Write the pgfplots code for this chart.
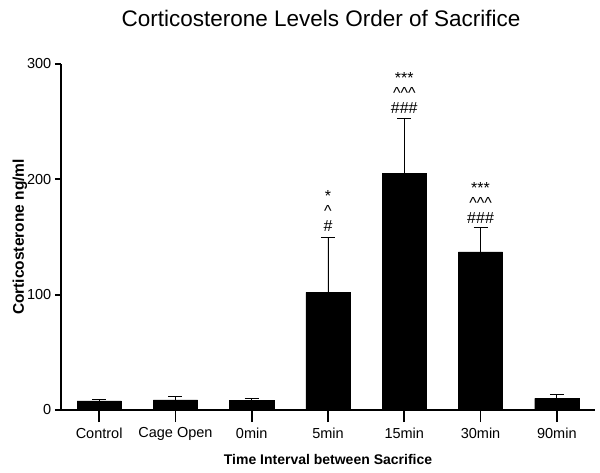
\documentclass[border=0pt]{standalone}
\usepackage{fontspec}
\setmainfont{Liberation Sans}
\usepackage{pgfplots}
\pgfplotsset{compat=1.18}

\pgfplotstableread{
x  y    err
0  8.0  1.3
1  8.7  3.0
2  8.4  1.2
3  102  48
4  205  48
5  137  21
6  10.1 3.0
}\cortdata

\newcommand{\crt}{\textasciicircum}

\begin{document}
\begin{tikzpicture}[x=1pt,y=1pt,
    annot/.style={font=\fontsize{16}{16}\selectfont, inner sep=0pt, anchor=base}]
  \path[use as bounding box] (-61,-62) rectangle (539,410);
  \begin{axis}[
    at={(0,0)}, anchor=south west,
    scale only axis, width=534pt, height=346pt,
    xmin=-0.5, xmax=6.5, ymin=0, ymax=300,
    axis x line=bottom, axis y line=left,
    axis line style={-, line width=1.8pt},
    xtick={0,...,6},
    xticklabels={Control, Cage Open, 0min, 5min, 15min, 30min, 90min},
    ytick={0,100,200,300},
    tick style={black, line width=1.8pt},
    xtick style={/pgfplots/major tick length=12pt},
    ytick style={/pgfplots/major tick length=6pt},
    tick align=outside,
    x tick label style={font=\fontsize{14.5}{16}\selectfont, yshift=-10pt},
    y tick label style={font=\fontsize{14.5}{16}\selectfont, xshift=-2pt},
    /pgf/number format/assume math mode=true,
    clip=false,
  ]
    \addplot[ybar, bar width=0.58, fill=black, draw=black,
      error bars/.cd, y dir=plus, y explicit,
      error bar style={line width=0.9pt, black},
      error mark options={rotate=90, mark size=7pt, line width=0.9pt, black}]
      table[x=x, y=y, y error=err] {\cortdata};
    % significance marks above the error bars
    \node[annot] at (axis cs:3,155) {\#};
    \node[annot] at (axis cs:3,168) {\crt};
    \node[annot] at (axis cs:3,181) {*};
    \node[annot] at (axis cs:4,257) {\#\#\#};
    \node[annot] at (axis cs:4,270) {\crt\crt\crt};
    \node[annot] at (axis cs:4,283) {***};
    \node[annot] at (axis cs:5,162) {\#\#\#};
    \node[annot] at (axis cs:5,175) {\crt\crt\crt};
    \node[annot] at (axis cs:5,188) {***};
  \end{axis}
  \node[font=\fontsize{22.5}{26}\selectfont] at (260,392) {Corticosterone Levels Order of Sacrifice};
  \node[font=\bfseries\fontsize{14}{16}\selectfont] at (267,-49) {Time Interval between Sacrifice};
  \node[font=\bfseries\fontsize{15.5}{17}\selectfont, rotate=90] at (-41,173) {Corticosterone ng/ml};
\end{tikzpicture}
\end{document}
